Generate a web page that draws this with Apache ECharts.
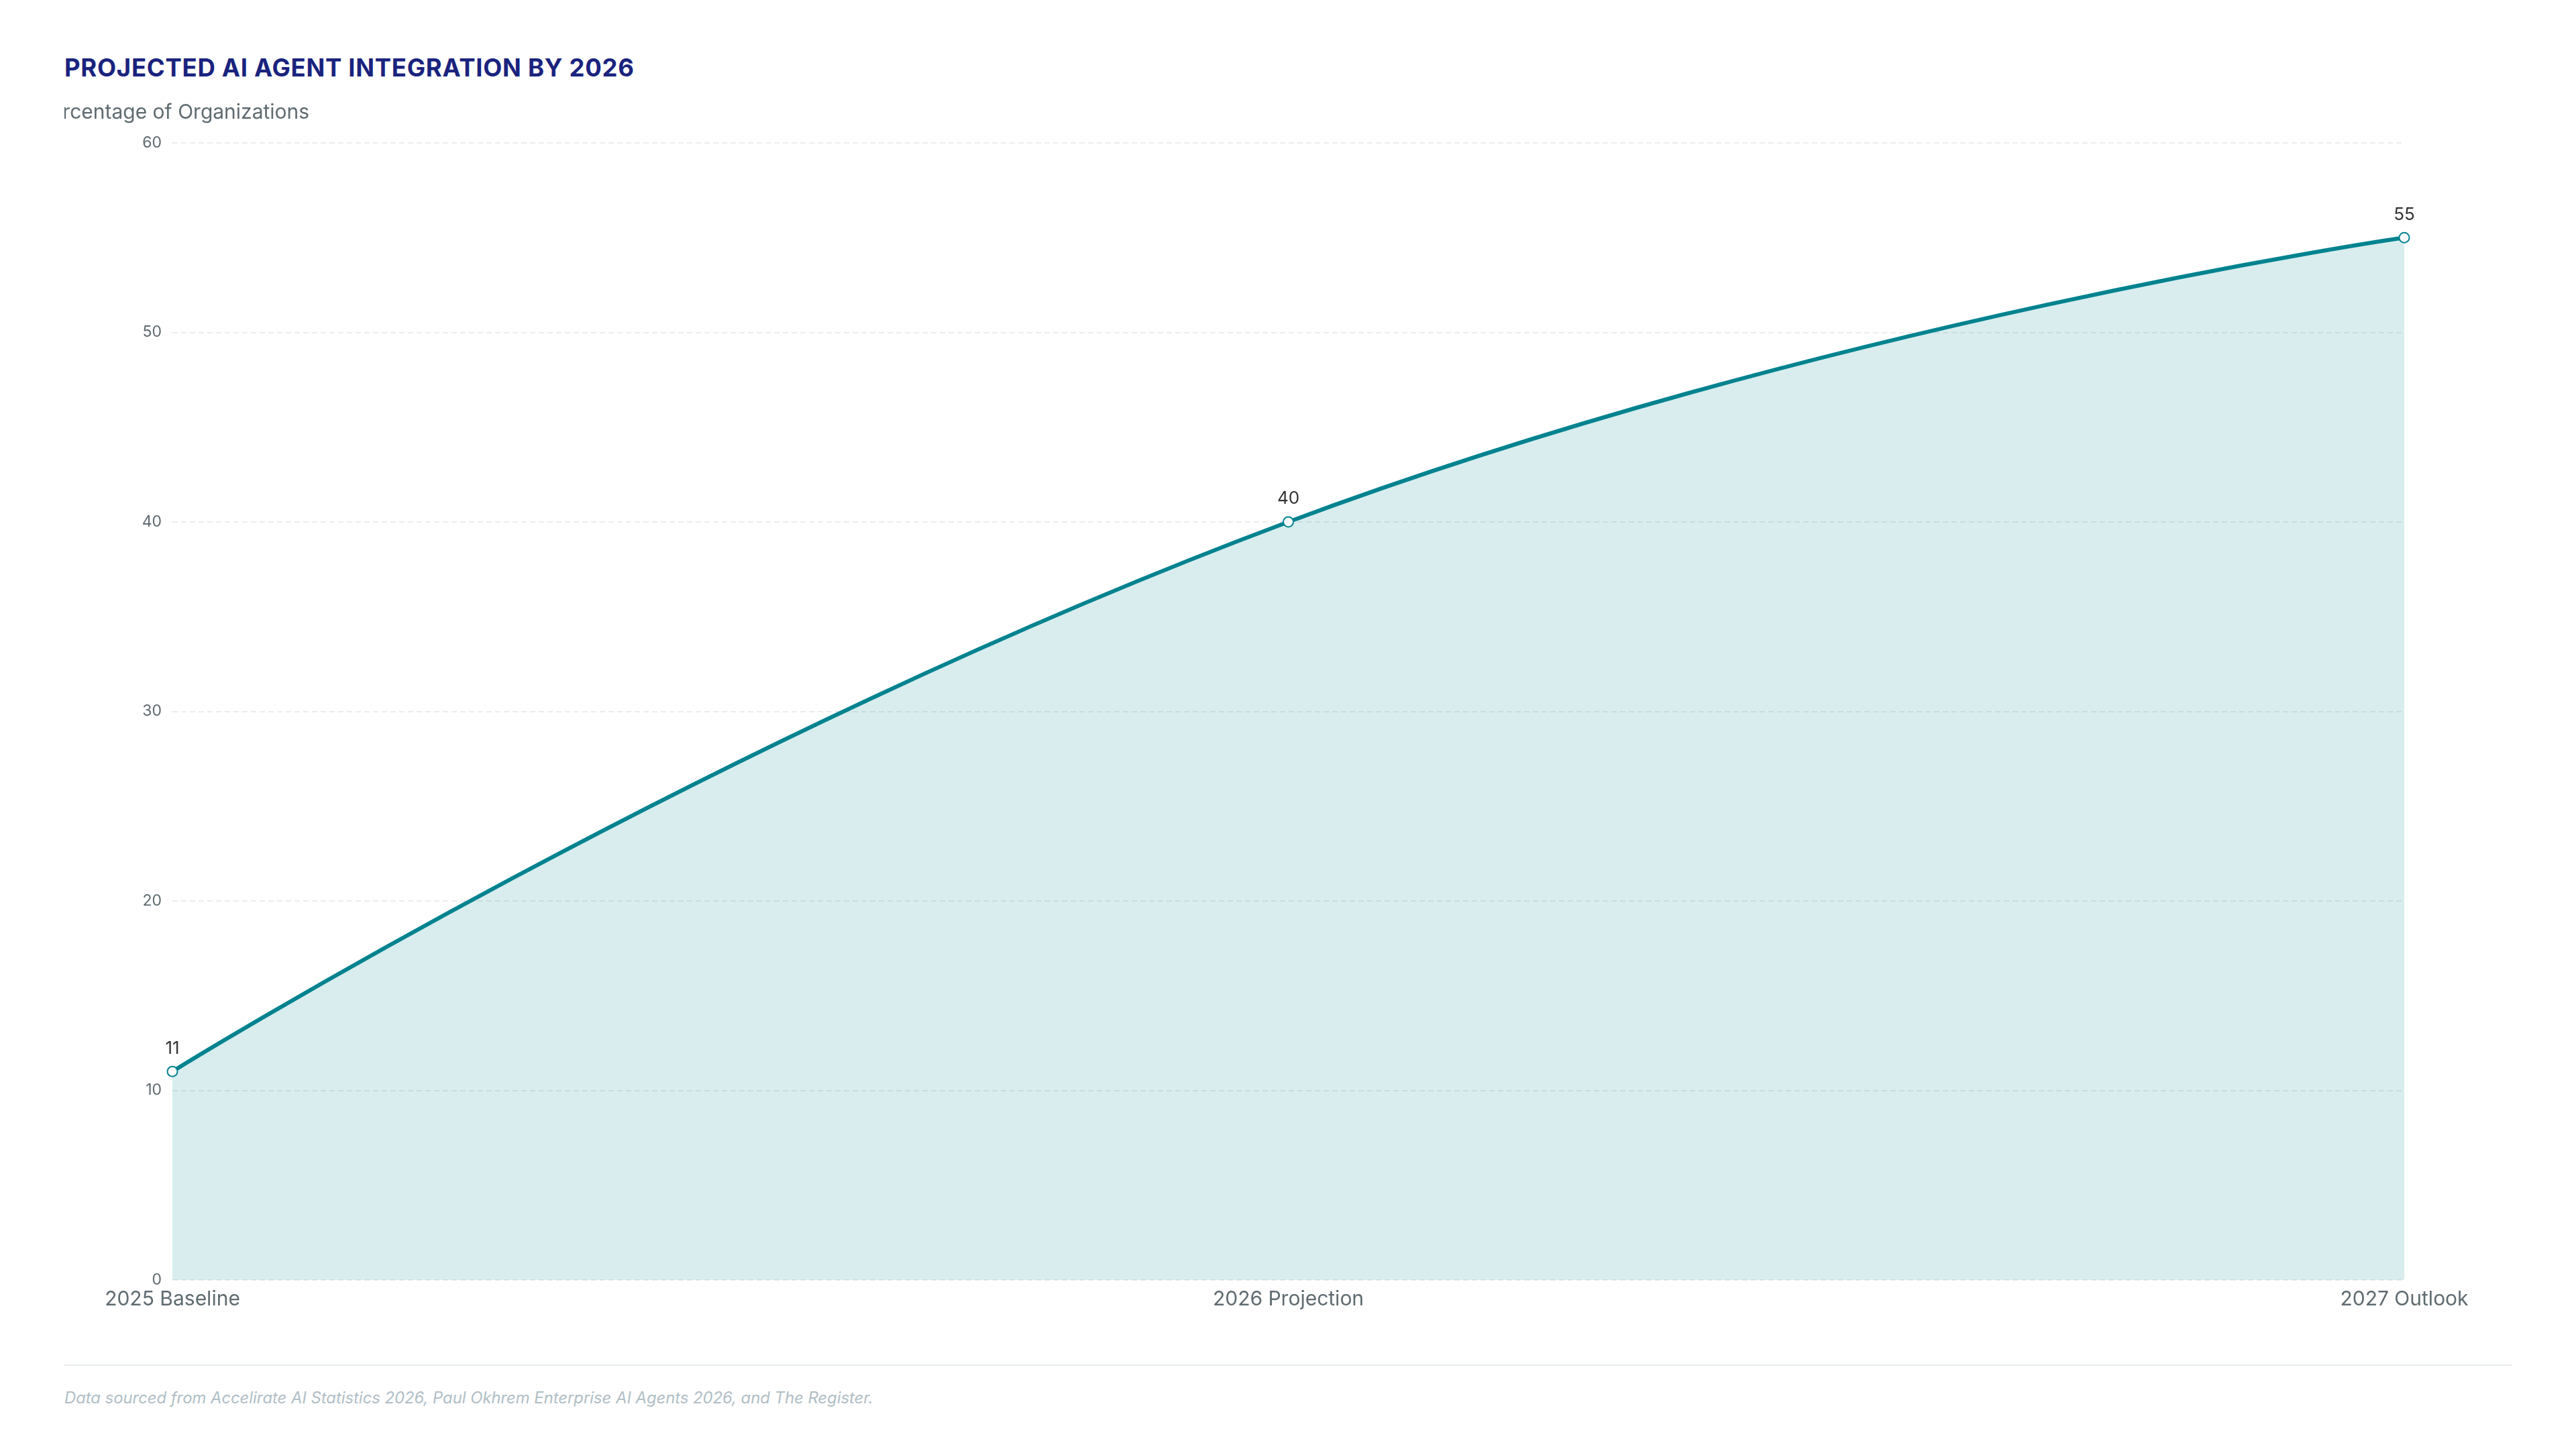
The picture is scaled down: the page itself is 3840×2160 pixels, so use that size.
<!DOCTYPE html>
<html>
<head>
<meta charset="utf-8">
<script src="https://cdn.jsdelivr.net/npm/echarts@6/dist/echarts.min.js"></script>
<style>
  html, body { margin: 0; padding: 0; background: #ffffff; width: 3840px; height: 2160px; overflow: hidden; font-family: Inter, "Noto Sans", sans-serif; }
  #title { position: absolute; left: 96px; top: 78px; margin: 0; font-size: 36.5px; font-weight: 700; color: #1a237e; letter-spacing: 0.7px; line-height: 46px; white-space: nowrap; }
  #chart { position: absolute; left: 96px; top: 140px; width: 3648px; height: 1880px; overflow: hidden; }
  #rule { position: absolute; left: 96px; top: 2034px; width: 3648px; height: 2px; background: #e8ecef; }
  #source { position: absolute; left: 96px; top: 2068px; font-size: 23.8px; font-style: italic; color: #b0bec5; line-height: 32px; white-space: nowrap; }
</style>
</head>
<body>
<h1 id="title">PROJECTED AI AGENT INTEGRATION BY 2026</h1>
<div id="chart"></div>
<div id="rule"></div>
<div id="source">Data sourced from Accelirate AI Statistics 2026, Paul Okhrem Enterprise AI Agents 2026, and The Register.</div>
<script>
const categories = ['2025 Baseline', '2026 Projection', '2027 Outlook'];
const adoptionValues = [11, 40, 55];
const yAxisName = 'Percentage of Organizations';
const yMin = 0;
const yMax = 60;
const yInterval = 10;

const chart = echarts.init(document.getElementById('chart'), null, { renderer: 'canvas' });
chart.setOption({
  animation: false,
  textStyle: { fontFamily: 'Inter' },
  grid: { left: 161, right: 160, top: 73, bottom: 112, containLabel: false, outerBoundsMode: 'none' },
  xAxis: {
    type: 'category',
    data: categories,
    boundaryGap: false,
    axisLine: { show: false },
    axisTick: { show: false },
    axisLabel: { color: '#5f6b70', fontSize: 30, margin: 14, fontFamily: 'Inter' },
    splitLine: { show: false }
  },
  yAxis: {
    type: 'value',
    min: yMin,
    max: yMax,
    interval: yInterval,
    name: yAxisName,
    nameLocation: 'end',
    nameGap: 30,
    nameTextStyle: { color: '#5f6b70', fontSize: 30, fontFamily: 'Inter', padding: [0, 0, 0, 4] },
    axisLine: { show: false },
    axisTick: { show: false },
    axisLabel: { color: '#5f6b70', fontSize: 23, margin: 16, fontFamily: 'Inter' },
    splitLine: { show: true, lineStyle: { color: '#ececec', width: 2, type: [8, 5] } }
  },
  series: [{
    type: 'line',
    data: adoptionValues,
    smooth: true,
    symbol: 'emptyCircle',
    symbolSize: 15,
    lineStyle: { color: '#00838f', width: 6 },
    itemStyle: { color: '#00838f', borderColor: '#00838f', borderWidth: 4 },
    areaStyle: { color: 'rgba(0,131,143,0.15)', opacity: 1 },
    label: { show: true, position: 'top', distance: 13, color: '#333333', fontSize: 26, fontFamily: 'Inter' }
  }]
});
</script>
</body>
</html>
